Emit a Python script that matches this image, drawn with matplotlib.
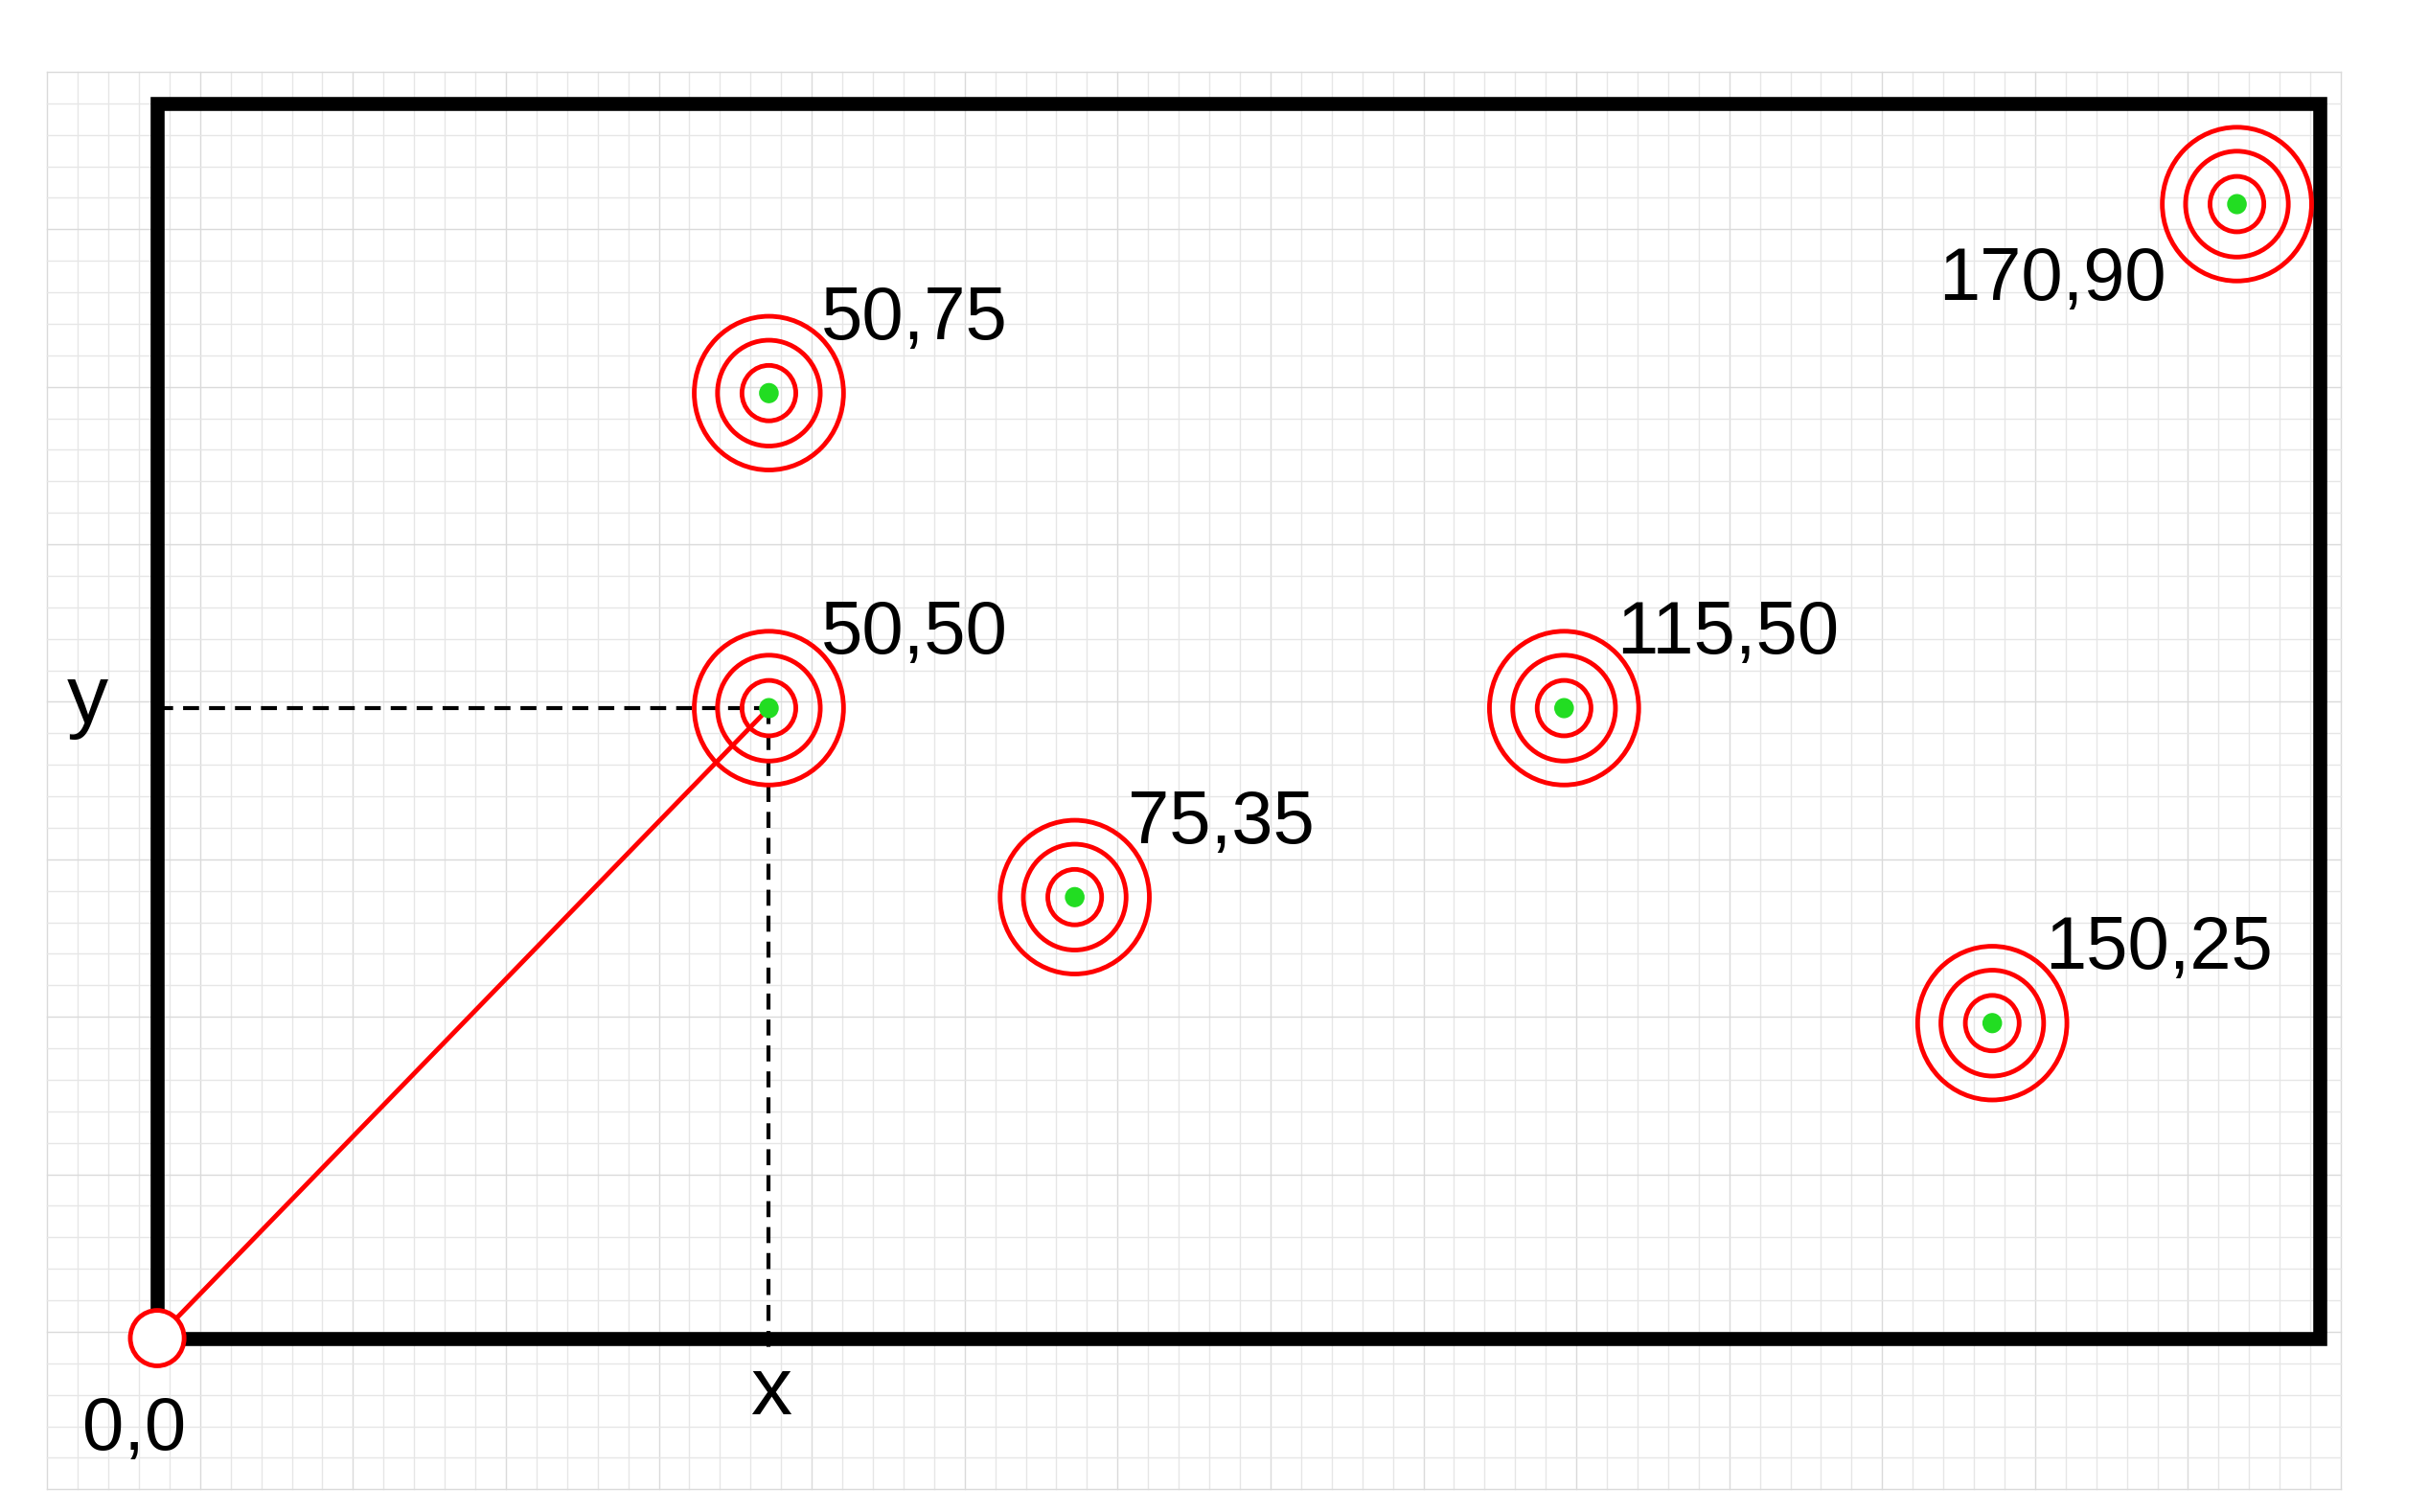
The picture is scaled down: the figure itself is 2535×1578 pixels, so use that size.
import matplotlib
matplotlib.use("Agg")
import matplotlib.pyplot as plt
import numpy as np
from matplotlib.patches import Circle, Rectangle

plt.rcParams['font.family'] = ['Liberation Sans', 'DejaVu Sans']

px = [50, 50, 75, 115, 150, 170]
py = [75, 50, 35, 50, 25, 90]
labels = ["50,75", "50,50", "75,35", "115,50", "150,25", "170,90"]
box_w, box_h = 176.8, 98

fig = plt.figure(figsize=(25.35, 15.78), dpi=100)
ax = fig.add_axes([0, 0, 1, 1])
ax.set_xlim(-12.85, 185.7)
ax.set_ylim(-13.8, 106.2)
ax.axis("off")

# background grid
gx0, gx1, gy0, gy1 = -9, 178.5, -12, 100.5
for i, g in enumerate(np.arange(gx0, gx1 + 0.01, 2.5)):
    ax.plot([g, g], [gy0, gy1], color="#e6e6e6" if i % 5 else "#dadada", lw=1, zorder=0)
for i, g in enumerate(np.arange(gy0, gy1 + 0.01, 2.5)):
    ax.plot([gx0, gx1], [g, g], color="#e6e6e6" if i % 5 else "#dadada", lw=1, zorder=0)

ax.add_patch(Rectangle((0, 0), box_w, box_h, fill=False, ec="black", lw=10.5, zorder=2))

# dashed guides to 50,50
ax.plot([0, px[1]], [py[1], py[1]], ls=(0, (4, 2.5)), color="black", lw=3, zorder=3)
ax.plot([px[1], px[1]], [py[1], -1.5], ls=(0, (4, 2.5)), color="black", lw=3, zorder=3)
ax.plot([0, px[1]], [0, py[1]], color="red", lw=3.5, zorder=4)

for x, y, lab in zip(px, py, labels):
    for r in (6.1, 4.2, 2.2):
        ax.add_patch(Circle((x, y), r, fill=False, ec="red", lw=3.5, zorder=5))
    ax.add_patch(Circle((x, y), 0.75, color="#22dd22", zorder=6))
    if lab == "170,90":
        ax.text(x - 5.8, y - 3.3, lab, fontsize=56, ha="right", va="top", zorder=7)
    else:
        ax.text(x + 4.3, y + 4.3, lab, fontsize=56, ha="left", va="baseline", zorder=7)

ax.add_patch(Circle((0, 0), 2.2, fc="white", ec="red", lw=3.5, zorder=8))
ax.text(-1.9, -7.3, "0,0", fontsize=56, ha="center", va="center")
ax.text(-5.7, 50.5, "y", fontsize=62, ha="center", va="center")
ax.text(50.2, -4.4, "x", fontsize=62, ha="center", va="center")

fig.savefig("out.png", dpi=100, facecolor="white")
